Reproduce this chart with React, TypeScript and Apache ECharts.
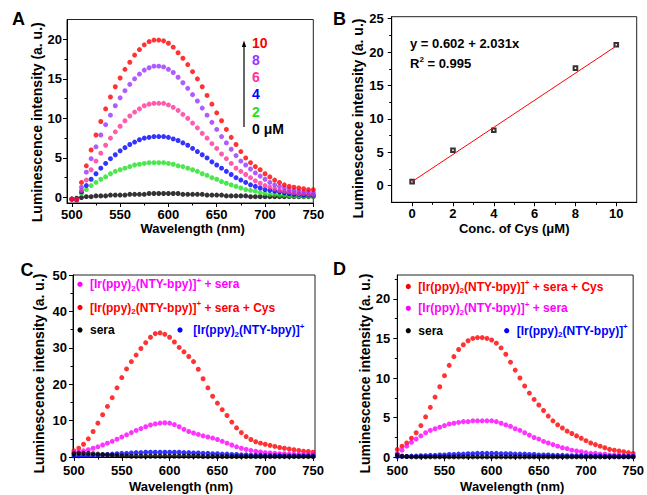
import React, { useEffect, useRef } from "react";
import * as echarts from "echarts";

const FONT = "'Liberation Sans', Arial, Helvetica, sans-serif";

// ---------- shared x values (nm) ----------
const wavelengths = [
  500, 505, 510, 515, 520, 525, 530, 535, 540, 545, 550, 555, 560, 565, 570, 575, 580,
  585, 590, 595, 600, 605, 610, 615, 620, 625, 630, 635, 640, 645, 650, 655, 660, 665,
  670, 675, 680, 685, 690, 695, 700, 705, 710, 715, 720, 725, 730, 735, 740, 745, 750,
];

// ---------- panel A : spectra vs Cys concentration ----------
const aCys0 = [
  -0.2, -0.1, 0.0, 0.1, 0.1, 0.2, 0.2, 0.2, 0.3, 0.3, 0.3, 0.3, 0.4, 0.4, 0.4, 0.4, 0.5,
  0.5, 0.5, 0.5, 0.5, 0.5, 0.5, 0.4, 0.4, 0.4, 0.4, 0.4, 0.3, 0.3, 0.3, 0.3, 0.2, 0.2,
  0.2, 0.2, 0.2, 0.1, 0.1, 0.1, 0.1, 0.1, 0.1, 0.1, 0.1, 0.1, 0.1, 0.1, 0.1, 0.1, 0.1,
];
const aCys2 = [
  -0.2, -0.3, 0.5, 1.0, 1.5, 1.9, 2.3, 2.6, 3.0, 3.3, 3.5, 3.7, 3.9, 4.1, 4.2, 4.3, 4.4,
  4.4, 4.4, 4.4, 4.3, 4.2, 4.0, 3.9, 3.7, 3.5, 3.3, 3.0, 2.8, 2.5, 2.3, 2.0, 1.8, 1.6,
  1.4, 1.2, 1.0, 0.9, 0.8, 0.6, 0.5, 0.4, 0.4, 0.3, 0.3, 0.2, 0.2, 0.2, 0.15, 0.15, 0.15,
];
const aCys4 = [
  -0.2, -0.3, 0.7, 1.5, 2.3, 3.0, 3.7, 4.3, 4.9, 5.4, 5.9, 6.3, 6.7, 7.0, 7.3, 7.5, 7.6,
  7.7, 7.7, 7.7, 7.6, 7.4, 7.2, 6.9, 6.6, 6.2, 5.8, 5.4, 5.0, 4.5, 4.1, 3.7, 3.3, 2.9,
  2.5, 2.2, 1.9, 1.6, 1.4, 1.2, 1.0, 0.9, 0.8, 0.7, 0.6, 0.5, 0.4, 0.4, 0.3, 0.3, 0.3,
];
const aCys6 = [
  -0.2, -0.3, 0.9, 2.2, 3.5, 4.6, 5.6, 6.6, 7.5, 8.3, 9.0, 9.7, 10.3, 10.8, 11.2, 11.6, 11.8,
  11.9, 11.9, 11.9, 11.7, 11.4, 11.0, 10.5, 10.0, 9.4, 8.8, 8.1, 7.5, 6.8, 6.2, 5.5, 4.9, 4.3,
  3.7, 3.3, 2.9, 2.5, 2.1, 1.8, 1.5, 1.3, 1.1, 0.9, 0.8, 0.7, 0.6, 0.5, 0.5, 0.4, 0.4,
];
const aCys8 = [
  -0.2, -0.3, 1.3, 3.2, 4.9, 6.4, 7.9, 9.2, 10.4, 11.6, 12.6, 13.5, 14.3, 15.0, 15.6, 16.1, 16.4,
  16.6, 16.6, 16.5, 16.2, 15.8, 15.2, 14.5, 13.8, 13.0, 12.2, 11.3, 10.4, 9.5, 8.6, 7.7, 6.9, 6.1,
  5.3, 4.6, 4.1, 3.6, 3.1, 2.7, 2.3, 1.9, 1.6, 1.4, 1.2, 1.0, 0.9, 0.8, 0.7, 0.7, 0.6,
];
const aCys10 = [
  -0.2, -0.3, 1.9, 4.0, 6.0, 7.9, 9.6, 11.2, 12.7, 14.0, 15.1, 16.2, 17.1, 18.0, 18.7, 19.3, 19.7,
  19.9, 19.9, 19.8, 19.5, 19.0, 18.3, 17.6, 16.8, 15.9, 15.0, 14.0, 12.9, 11.8, 10.7, 9.7, 8.6, 7.6,
  6.7, 5.8, 5.0, 4.4, 3.9, 3.5, 3.0, 2.6, 2.2, 1.9, 1.6, 1.4, 1.3, 1.2, 1.1, 1.0, 1.0,
];
const aLabels = ["10", "8", "6", "4", "2", "0 \u03bcM"];

// ---------- panel B : calibration ----------
const bConc = [0, 2, 4, 8, 10];
const bIntensity = [0.6, 5.3, 8.3, 17.6, 21.1];
const fitIntercept = 0.602;
const fitSlope = 2.031;
const fitR2 = 0.995;
const fitRange = [0, 10];

// ---------- panel C : spectra in sera ----------
const cSera = [
  0.9, 1.0, 1.0, 1.0, 0.9, 0.8, 0.7, 0.6, 0.5, 0.4, 0.3, 0.3, 0.2, 0.2, 0.2, 0.2, 0.2,
  0.2, 0.2, 0.2, 0.2, 0.2, 0.2, 0.2, 0.2, 0.2, 0.2, 0.1, 0.1, 0.1, 0.1, 0.1, 0.1, 0.1,
  0.1, 0.1, 0.1, 0.1, 0.1, 0.1, 0.1, 0.1, 0.1, 0.1, 0.1, 0.1, 0.1, 0.1, 0.1, 0.1, 0.1,
];
const cIr = [
  0.3, 0.3, 0.4, 0.4, 0.5, 0.5, 0.6, 0.7, 0.8, 0.9, 1.0, 1.0, 1.1, 1.2, 1.2, 1.3, 1.3,
  1.3, 1.3, 1.3, 1.3, 1.3, 1.3, 1.2, 1.2, 1.1, 1.1, 1.0, 1.0, 0.9, 0.9, 0.8, 0.8, 0.7,
  0.7, 0.6, 0.6, 0.5, 0.5, 0.5, 0.4, 0.4, 0.4, 0.4, 0.3, 0.3, 0.3, 0.3, 0.3, 0.3, 0.3,
];
const cIrSera = [
  1.2, 1.4, 1.7, 2.0, 2.4, 2.8, 3.3, 3.8, 4.3, 4.9, 5.5, 6.1, 6.7, 7.3, 7.8, 8.3, 8.8,
  9.1, 9.3, 9.4, 9.3, 8.9, 8.3, 7.6, 7.0, 6.6, 6.2, 5.8, 5.5, 5.2, 4.8, 4.3, 3.8, 3.3,
  2.8, 2.4, 2.1, 1.8, 1.6, 1.4, 1.2, 1.1, 1.0, 0.9, 0.9, 0.8, 0.8, 0.7, 0.7, 0.7, 0.7,
];
const cIrSeraCys = [
  1.7, 2.4, 3.5, 5.0, 7.0, 9.3, 11.6, 13.9, 16.3, 19.0, 21.8, 24.2, 26.2, 28.0, 29.8, 31.4, 32.9,
  33.9, 34.1, 33.7, 32.9, 31.6, 30.1, 28.9, 27.6, 26.2, 24.1, 21.5, 19.0, 16.7, 14.8, 13.0, 11.4, 9.6,
  8.0, 6.7, 5.6, 4.8, 4.2, 3.8, 3.5, 3.2, 2.9, 2.6, 2.4, 2.2, 2.0, 1.8, 1.6, 1.5, 1.3,
];

// ---------- panel D : spectra in sera (second sample) ----------
const dSera = [
  0.3, 0.15, 0.1, 0.05, 0.05, 0.05, 0.05, 0.05, 0.05, 0.05, 0.05, 0.05, 0.05, 0.05, 0.05, 0.05, 0.05,
  0.05, 0.05, 0.05, 0.05, 0.05, 0.05, 0.05, 0.05, 0.05, 0.05, 0.05, 0.05, 0.05, 0.05, 0.05, 0.05, 0.05,
  0.05, 0.05, 0.05, 0.05, 0.05, 0.05, 0.05, 0.05, 0.05, 0.05, 0.05, 0.05, 0.05, 0.05, 0.05, 0.05, 0.05,
];
const dIr = [
  0.1, 0.1, 0.1, 0.15, 0.15, 0.2, 0.2, 0.25, 0.25, 0.3, 0.3, 0.35, 0.35, 0.4, 0.4, 0.45, 0.45,
  0.5, 0.5, 0.5, 0.5, 0.5, 0.45, 0.45, 0.45, 0.4, 0.4, 0.4, 0.35, 0.35, 0.3, 0.3, 0.3, 0.25,
  0.25, 0.25, 0.2, 0.2, 0.2, 0.2, 0.15, 0.15, 0.15, 0.15, 0.1, 0.1, 0.1, 0.1, 0.1, 0.1, 0.1,
];
const dIrSera = [
  0.5, 0.9, 1.4, 1.9, 2.3, 2.7, 3.1, 3.4, 3.6, 3.8, 4.0, 4.2, 4.3, 4.4, 4.5, 4.5, 4.6,
  4.6, 4.6, 4.6, 4.6, 4.5, 4.3, 4.1, 3.9, 3.6, 3.4, 3.1, 2.8, 2.5, 2.3, 2.0, 1.8, 1.6,
  1.4, 1.2, 1.1, 0.9, 0.8, 0.7, 0.6, 0.5, 0.5, 0.4, 0.4, 0.3, 0.3, 0.3, 0.2, 0.2, 0.2,
];
const dIrSeraCys = [
  1.0, 1.4, 1.8, 2.4, 3.1, 4.0, 5.1, 6.3, 7.6, 8.9, 10.3, 11.6, 12.7, 13.6, 14.2, 14.7, 15.0,
  15.1, 15.1, 15.0, 14.8, 14.4, 13.8, 13.0, 12.0, 11.0, 10.0, 9.0, 8.1, 7.3, 6.6, 5.9, 5.2, 4.6,
  4.1, 3.7, 3.3, 3.0, 2.7, 2.4, 2.1, 1.8, 1.6, 1.4, 1.2, 1.0, 0.9, 0.8, 0.7, 0.6, 0.5,
];

// ---------- tick values ----------
const waveTicks = [500, 550, 600, 650, 700, 750];
const waveMinor = [525, 575, 625, 675, 725];
const aYTicks = [0, 5, 10, 15, 20];
const aYMinor = [2.5, 7.5, 12.5, 17.5];
const bXTicks = [0, 2, 4, 6, 8, 10];
const bXMinor = [1, 3, 5, 7, 9];
const bYTicks = [0, 5, 10, 15, 20, 25];
const bYMinor = [2.5, 7.5, 12.5, 17.5, 22.5];
const cYTicks = [0, 10, 20, 30, 40, 50];
const cYMinor = [5, 15, 25, 35, 45];
const dYTicks = [0, 5, 10, 15, 20];
const dYMinor = [2.5, 7.5, 12.5, 17.5, 22.5];

// ---------- series names ----------
const IR = "[Ir(ppy)2(NTY-bpy)]+";
const nameSera = "sera";
const nameIr = IR;
const nameIrSera = IR + " + sera";
const nameIrSeraCys = IR + " + sera + Cys";

const COLORS = {
  red: "#ff0000",
  purple: "#9933ff",
  pink: "#ff3399",
  blue: "#0000ff",
  green: "#22e022",
  black: "#000000",
  magenta: "#ff00ff",
};
const aColors = [COLORS.red, COLORS.purple, COLORS.pink, COLORS.blue, COLORS.green, COLORS.black];

function pairs(xs: number[], ys: number[]) {
  return ys.map((y, i) => [xs[i], y]);
}

type AxisSpec = {
  grid: number;
  min: number;
  max: number;
  major: number[];
  minor: number[];
  name: string;
  nameGap: number;
  namePad: number[];
  nameSize: number;
  labelMargin: number;
};

function makeAxes(dim: "x" | "y", s: AxisSpec) {
  const common = {
    type: "value",
    gridIndex: s.grid,
    min: s.min,
    max: s.max,
    position: dim === "x" ? "bottom" : "left",
    splitLine: { show: false },
  };
  return [
    {
      ...common,
      axisLine: { show: true, onZero: false, lineStyle: { color: "#000", width: 1 } },
      axisTick: {
        show: true,
        inside: false,
        length: 4,
        customValues: s.major,
        lineStyle: { color: "#000", width: 1 },
      },
      axisLabel: {
        customValues: s.major,
        margin: s.labelMargin,
        color: "#000",
        fontSize: 13,
        fontWeight: "bold",
        fontFamily: FONT,
      },
      name: s.name,
      nameLocation: "middle",
      nameGap: s.nameGap,
      nameTextStyle: {
        color: "#000",
        fontSize: s.nameSize,
        fontWeight: "bold",
        fontFamily: FONT,
        padding: s.namePad,
      },
    },
    {
      ...common,
      axisLine: { show: false, onZero: false },
      axisTick: {
        show: true,
        inside: false,
        length: 2.5,
        customValues: s.minor,
        lineStyle: { color: "#000", width: 1 },
      },
      axisLabel: { show: false },
    },
  ];
}

function scatter(name: string, grid: number, ys: number[], color: string, xs = wavelengths) {
  return {
    type: "scatter",
    name,
    xAxisIndex: grid * 2,
    yAxisIndex: grid * 2,
    data: pairs(xs, ys),
    symbol: "circle",
    symbolSize: 5,
    itemStyle: { color },
    silent: true,
  };
}

function richFor(color: string) {
  return {
    sub: { fontSize: 8, fontWeight: "bold", fontFamily: FONT, fill: color, verticalAlign: "bottom", lineHeight: 8 },
    sup: { fontSize: 8, fontWeight: "bold", fontFamily: FONT, fill: color, verticalAlign: "top", lineHeight: 8 },
  };
}

function richName(name: string) {
  return name.replace("(ppy)2", "(ppy){sub|2}").replace("bpy)]+", "bpy)]{sup|+}");
}

function legendRow(cx: number, cy: number, tx: number, color: string, name: string) {
  return [
    { type: "circle", shape: { cx, cy, r: 2.6 }, style: { fill: color } },
    {
      type: "text",
      x: tx,
      y: cy,
      style: {
        text: richName(name),
        fill: color,
        fontSize: 12,
        fontWeight: "bold",
        fontFamily: FONT,
        align: "left",
        verticalAlign: "middle",
        lineHeight: 16,
        rich: richFor(color),
      },
    },
  ];
}

function panelLetter(text: string, x: number, y: number) {
  return {
    type: "text",
    x,
    y,
    style: {
      text,
      fill: "#000",
      fontSize: 18,
      fontWeight: "bold",
      fontFamily: FONT,
      align: "left",
      verticalAlign: "middle",
    },
  };
}

function buildOption() {
  const lumName = "Luminescence intensity (a. u.)";
  const waveName = "Wavelength (nm)";

  const xAxes = [
    ...makeAxes("x", { grid: 0, min: 495, max: 750, major: waveTicks, minor: waveMinor, name: waveName, nameGap: 19, namePad: [0, 0, 0, 5], nameSize: 13, labelMargin: 5 }),
    ...makeAxes("x", { grid: 1, min: -1, max: 11, major: bXTicks, minor: bXMinor, name: "Conc. of Cys (\u03bcM)", nameGap: 20, namePad: [0, 0, 0, 0], nameSize: 13, labelMargin: 5 }),
    ...makeAxes("x", { grid: 2, min: 499, max: 752, major: waveTicks, minor: waveMinor, name: waveName, nameGap: 23, namePad: [0, 26, 0, 0], nameSize: 13, labelMargin: 7 }),
    ...makeAxes("x", { grid: 3, min: 500, max: 750, major: waveTicks, minor: waveMinor, name: waveName, nameGap: 23, namePad: [0, 6, 0, 0], nameSize: 13, labelMargin: 7 }),
  ];
  const yAxes = [
    ...makeAxes("y", { grid: 0, min: -0.7, max: 22.5, major: aYTicks, minor: aYMinor, name: lumName, nameGap: 21, namePad: [0, 22, 0, 0], nameSize: 14, labelMargin: 5 }),
    ...makeAxes("y", { grid: 1, min: -2.5, max: 25.3, major: bYTicks, minor: bYMinor, name: lumName, nameGap: 27, namePad: [0, 18, 0, 0], nameSize: 14, labelMargin: 8 }),
    ...makeAxes("y", { grid: 2, min: 0, max: 50, major: cYTicks, minor: cYMinor, name: lumName, nameGap: 27, namePad: [0, 15, 0, 0], nameSize: 14, labelMargin: 6 }),
    ...makeAxes("y", { grid: 3, min: 0, max: 23, major: dYTicks, minor: dYMinor, name: lumName, nameGap: 23, namePad: [0, 15, 0, 0], nameSize: 14, labelMargin: 7 }),
  ];

  const gridBase = { show: true, borderColor: "#222", borderWidth: 1, backgroundColor: "transparent", containLabel: false };
  const grids = [
    { ...gridBase, left: 67, top: 19.5, width: 246.3, height: 183.5 },
    { ...gridBase, left: 391.7, top: 16.7, width: 245, height: 185.6 },
    { ...gridBase, left: 73, top: 275, width: 242, height: 182 },
    { ...gridBase, left: 397.3, top: 275, width: 239.4, height: 182.3 },
  ];

  const fitLine = fitRange.map((x) => [x, fitIntercept + fitSlope * x]);

  const series: any[] = [
    scatter("0 \u03bcM", 0, aCys0, COLORS.black),
    scatter("2 \u03bcM", 0, aCys2, COLORS.green),
    scatter("4 \u03bcM", 0, aCys4, COLORS.blue),
    scatter("6 \u03bcM", 0, aCys6, COLORS.pink),
    scatter("8 \u03bcM", 0, aCys8, COLORS.purple),
    scatter("10 \u03bcM", 0, aCys10, COLORS.red),
    {
      type: "line",
      name: "fit",
      xAxisIndex: 2,
      yAxisIndex: 2,
      data: fitLine,
      symbol: "none",
      lineStyle: { color: COLORS.red, width: 1 },
      silent: true,
    },
    {
      type: "scatter",
      name: "measured",
      xAxisIndex: 2,
      yAxisIndex: 2,
      data: pairs(bConc, bIntensity),
      symbol: "emptyRect",
      symbolSize: 3.6,
      itemStyle: { color: "#000", borderColor: "#000", borderWidth: 0.9 },
      silent: true,
    },
    scatter(nameIrSeraCys, 2, cIrSeraCys, COLORS.red),
    scatter(nameIrSera, 2, cIrSera, COLORS.magenta),
    scatter(nameIr, 2, cIr, COLORS.blue),
    scatter(nameSera, 2, cSera, COLORS.black),
    scatter(nameIrSeraCys, 3, dIrSeraCys, COLORS.red),
    scatter(nameIrSera, 3, dIrSera, COLORS.magenta),
    scatter(nameIr, 3, dIr, COLORS.blue),
    scatter(nameSera, 3, dSera, COLORS.black),
  ];

  const graphic: any[] = [
    panelLetter("A", 12, 18.5),
    panelLetter("B", 333, 18.8),
    panelLetter("C", 20.5, 269.5),
    panelLetter("D", 333, 269),
    // arrow in panel A
    { type: "line", shape: { x1: 244, y1: 127, x2: 244, y2: 45 }, style: { stroke: "#000", lineWidth: 1.2 } },
    { type: "polygon", shape: { points: [[241.8, 47], [244, 40.5], [246.2, 47]] }, style: { fill: "#000" } },
    ...aLabels.map((t, i) => ({
      type: "text",
      x: 252,
      y: 42.5 + i * 17.3,
      style: {
        text: t,
        fill: aColors[i],
        fontSize: 14,
        fontWeight: "bold",
        fontFamily: FONT,
        align: "left",
        verticalAlign: "middle",
      },
    })),
    // equation in panel B
    {
      type: "text",
      x: 410,
      y: 43.3,
      style: {
        text: `y = ${fitIntercept} + ${fitSlope}x`,
        fill: "#000",
        fontSize: 13,
        fontWeight: "bold",
        fontFamily: FONT,
        align: "left",
        verticalAlign: "middle",
      },
    },
    {
      type: "text",
      x: 410,
      y: 63.3,
      style: {
        text: `R{sup|2} = ${fitR2}`,
        fill: "#000",
        fontSize: 13,
        fontWeight: "bold",
        fontFamily: FONT,
        align: "left",
        verticalAlign: "middle",
        lineHeight: 16,
        rich: richFor("#000"),
      },
    },
    // legend panel C
    ...legendRow(80, 284.3, 90, COLORS.magenta, nameIrSera),
    ...legendRow(80, 307.5, 90, COLORS.red, nameIrSeraCys),
    ...legendRow(80, 330, 90, COLORS.black, nameSera),
    ...legendRow(180, 330, 193.3, COLORS.blue, nameIr),
    // legend panel D
    ...legendRow(408.3, 286.5, 418.3, COLORS.red, nameIrSeraCys),
    ...legendRow(408.3, 308.3, 418.3, COLORS.magenta, nameIrSera),
    ...legendRow(408.3, 330.7, 418.3, COLORS.black, nameSera),
    ...legendRow(506.7, 330.7, 516.7, COLORS.blue, nameIr),
  ];

  return {
    animation: false,
    backgroundColor: "#ffffff",
    textStyle: { fontFamily: FONT },
    grid: grids,
    xAxis: xAxes,
    yAxis: yAxes,
    series,
    graphic,
  };
}

export default function App() {
  const ref = useRef<HTMLDivElement>(null);
  useEffect(() => {
    if (!ref.current) return;
    const chart = echarts.init(ref.current, null, { renderer: "svg" });
    chart.setOption(buildOption() as any);
    return () => chart.dispose();
  }, []);
  return (
    <div
      ref={ref}
      style={{ position: "absolute", left: 0, top: 0, width: 647, height: 495, background: "#fff" }}
    />
  );
}
